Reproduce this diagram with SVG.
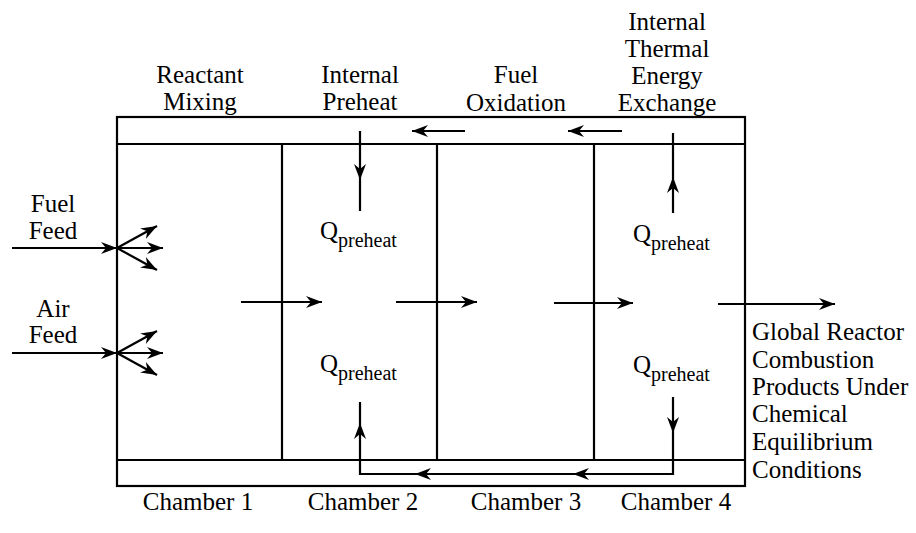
<svg xmlns="http://www.w3.org/2000/svg" width="916" height="533" viewBox="0 0 916 533">
<style>
text{font-family:"Liberation Serif","Times New Roman",serif;font-size:25px;fill:#000}
.c{text-anchor:middle}
.ln{fill:none;stroke:#000;stroke-width:2.2}
.ar{fill:none;stroke:#000;stroke-width:2.2;marker-end:url(#ah)}
.am{fill:none;stroke:#000;stroke-width:2.2;marker-mid:url(#ah)}
.sub{font-size:20px}
</style>
<defs>
<marker id="ah" viewBox="-17 -7 18 14" refX="0" refY="0" markerWidth="18" markerHeight="14" orient="auto" markerUnits="userSpaceOnUse">
<path d="M0,0 L-16,-6 L-11,0 L-16,6 Z" fill="#000"/>
</marker>
</defs>
<rect width="916" height="533" fill="#fff"/>
<g id="reactor">
<rect x="117" y="117" width="628" height="369" class="ln"/>
<line x1="117" y1="144" x2="745" y2="144" class="ln"/>
<line x1="117" y1="460" x2="745" y2="460" class="ln"/>
</g>
<g id="chamber1">
<text x="200" y="83" class="c">Reactant</text>
<text x="200" y="110" class="c">Mixing</text>
<text x="198" y="510" class="c">Chamber 1</text>
</g>
<g id="chamber2">
<line x1="282" y1="144" x2="282" y2="460" class="ln"/>
<text x="360" y="83" class="c">Internal</text>
<text x="360" y="110" class="c">Preheat</text>
<text x="320" y="239">Q<tspan class="sub" dy="8">preheat</tspan></text>
<text x="320" y="372">Q<tspan class="sub" dy="8">preheat</tspan></text>
<text x="363" y="510" class="c">Chamber 2</text>
</g>
<g id="chamber3">
<line x1="437" y1="144" x2="437" y2="460" class="ln"/>
<text x="516" y="83" class="c">Fuel</text>
<text x="516" y="111" class="c">Oxidation</text>
<text x="526" y="510" class="c">Chamber 3</text>
</g>
<g id="chamber4">
<line x1="594" y1="144" x2="594" y2="460" class="ln"/>
<text x="667" y="30" class="c">Internal</text>
<text x="667" y="57" class="c">Thermal</text>
<text x="667" y="84" class="c">Energy</text>
<text x="667" y="111" class="c">Exchange</text>
<text x="633" y="242">Q<tspan class="sub" dy="8">preheat</tspan></text>
<text x="633" y="373">Q<tspan class="sub" dy="8">preheat</tspan></text>
<text x="676" y="510" class="c">Chamber 4</text>
</g>
<g id="fuel-feed">
<text x="53" y="212" class="c">Fuel</text>
<text x="53" y="239" class="c">Feed</text>
</g>
<g id="air-feed">
<text x="53" y="317" class="c">Air</text>
<text x="53" y="343" class="c">Feed</text>
</g>
<g id="products">
<text x="752" y="340">Global Reactor</text>
<text x="752" y="368">Combustion</text>
<text x="752" y="395">Products Under</text>
<text x="752" y="422">Chemical</text>
<text x="752" y="450">Equilibrium</text>
<text x="752" y="478">Conditions</text>
</g>
<g id="connectors">
<path d="M12,248 L117,248" class="ar"/>
<path d="M117,248 L157,226" class="ar"/>
<path d="M117,248 L163,248" class="ar"/>
<path d="M117,248 L157,270" class="ar"/>
<path d="M12,353 L117,353" class="ar"/>
<path d="M117,353 L157,331" class="ar"/>
<path d="M117,353 L163,353" class="ar"/>
<path d="M117,353 L157,375" class="ar"/>
<path d="M241,302 L322,302" class="ar"/>
<path d="M396,302 L477,302" class="ar"/>
<path d="M554,303 L633,303" class="ar"/>
<path d="M718,304 L835,304" class="ar"/>
<path d="M465,131 L412,131" class="ar"/>
<path d="M622,131 L568,131" class="ar"/>
<path d="M360,131 L360,180 L360,211" class="am"/>
<path d="M673,213 L673,177 L673,133" class="am"/>
<path d="M673,397 L673,433" class="ar"/>
<path d="M673,433 L673,474 L573,474" class="ar"/>
<path d="M573,474 L415,474" class="ar"/>
<path d="M415,474 L360,474 L360,423" class="ar"/>
<path d="M360,423 L360,402" class="ln"/>
</g>
</svg>
